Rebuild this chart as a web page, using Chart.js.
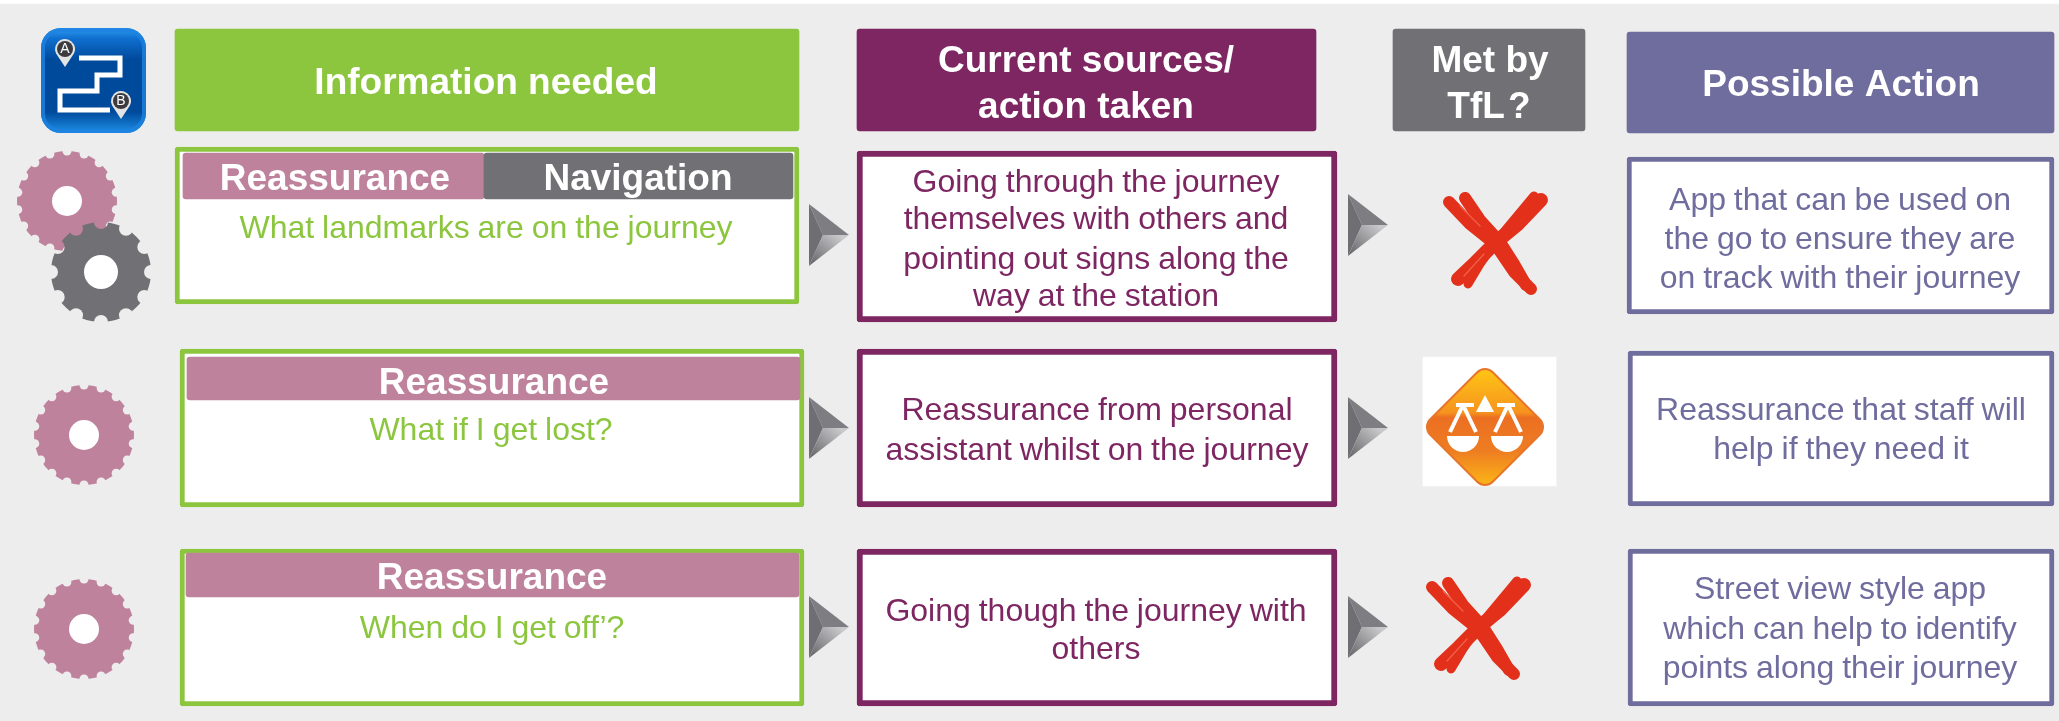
<!DOCTYPE html>
<html>
<head>
<meta charset="utf-8">
<title>Journey information needs</title>
<script src="https://cdn.jsdelivr.net/npm/chart.js@4"></script>
<style>
  html, body { margin: 0; padding: 0; background: #fff; }
  canvas { display: block; }
</style>
</head>
<body>
<canvas id="chart" width="2059" height="721"></canvas>
<script>
// --- Content of the table ---
const HEADERS = [['Information needed'], ['Current sources/', 'action taken'], ['Met by', 'TfL ?'], ['Possible Action']];
const NEED_TAGS = [['Reassurance', 'Navigation'], ['Reassurance'], ['Reassurance']];
const QUESTIONS = ['What landmarks are on the journey', 'What if I get lost?', 'When do I get off’?'];
const SOURCES = [
  ['Going through the journey', 'themselves with others and', 'pointing out signs along the', 'way at the station'],
  ['Reassurance from personal', 'assistant whilst on the journey'],
  ['Going though the journey with', 'others']
];
const MET_BY_TFL = ['no', 'partly', 'no'];
const ACTIONS = [
  ['App that can be used on', 'the go to ensure they are', 'on track with their journey'],
  ['Reassurance that staff will', 'help if they need it'],
  ['Street view style app', 'which can help to identify', 'points along their journey']
];

// --- Colours ---
const GREEN = '#8cc63f', PLUM = '#7d2662', GREY = '#717074', VIOLET = '#6f6c9e', PINK = '#bf829d', PAGE = '#ededed';
const TAG_COLORS = { Reassurance: PINK, Navigation: GREY };

// --- Layout, in the 2059x721 units of the two hidden axes ---
const HEADER_BOXES = [
  { x0: 175, x1: 799, y0: 29, y1: 131, color: GREEN, cx: 486, ys: [84] },
  { x0: 857, x1: 1316, y0: 29, y1: 131, color: PLUM, cx: 1086, ys: [62, 108] },
  { x0: 1393, x1: 1585, y0: 29, y1: 131, color: GREY, cx: 1490, ys: [62, 108] },
  { x0: 1627, x1: 2054, y0: 32, y1: 133, color: VIOLET, cx: 1841, ys: [86] }
];
const NEED_BOXES = [
  { x0: 175, x1: 799, y0: 147, y1: 304, textX: 486, textY: 229.5,
    tags: [{ x0: 183, x1: 484, y0: 153, y1: 199, cx: 335, cy: 180 }, { x0: 484, x1: 793, y0: 153, y1: 199, cx: 638, cy: 180 }] },
  { x0: 180, x1: 804, y0: 349, y1: 507, textX: 491, textY: 431.5,
    tags: [{ x0: 187, x1: 800, y0: 357, y1: 400, cx: 494, cy: 383.5 }] },
  { x0: 180, x1: 804, y0: 549, y1: 706, textX: 492, textY: 629.5,
    tags: [{ x0: 186, x1: 799, y0: 553, y1: 597, cx: 492, cy: 579 }] }
];
const SOURCE_BOXES = [
  { x0: 857, x1: 1337, y0: 151, y1: 322, cx: 1096, ys: [183, 220.5, 260, 297.5] },
  { x0: 857, x1: 1337, y0: 349, y1: 507, cx: 1097, ys: [411.5, 451.5] },
  { x0: 857, x1: 1337, y0: 549, y1: 706, cx: 1096, ys: [612.5, 650.5] }
];
const ACTION_BOXES = [
  { x0: 1627, x1: 2054, y0: 157, y1: 314, cx: 1840, ys: [201.5, 240.5, 279.5] },
  { x0: 1628, x1: 2054, y0: 351, y1: 506, cx: 1841, ys: [411.5, 450.5] },
  { x0: 1628, x1: 2054, y0: 549, y1: 706, cx: 1840, ys: [590.5, 630.5, 669.5] }
];
const ARROW_SPOTS = [[829, 235], [1368, 225], [829, 428], [1368, 428], [829, 627], [1368, 627]];
const CROSS_SPOTS = [[1498, 243], null, [1481, 628]];
const BALANCE_SPOT = [1485, 427];
const BALANCE_PANEL = { x0: 1423, x1: 1556, y0: 357, y1: 486 };
const MAP_ICON_SPOT = [94, 81];
const GEARS = [
  { x: 67, y: 201, color: PINK, notches: 18, notchR: 4.5, holeR: 15 },
  { x: 101, y: 272, color: GREY, notches: 12, notchR: 7, holeR: 17 },
  { x: 84, y: 435, color: PINK, notches: 18, notchR: 4.5, holeR: 15 },
  { x: 84, y: 629, color: PINK, notches: 18, notchR: 4.5, holeR: 15 }
];

function sprite(w, h, paint) {
  const c = document.createElement('canvas');
  c.width = w;
  c.height = h;
  paint(c.getContext('2d'));
  return c;
}

function gearSprite(g) {
  const R = 50;
  return sprite(104, 104, ctx => {
    ctx.translate(52, 52);
    ctx.fillStyle = g.color;
    ctx.beginPath();
    ctx.arc(0, 0, R, 0, Math.PI * 2);
    ctx.fill();
    // bite the notches out of the rim
    ctx.globalCompositeOperation = 'destination-out';
    for (let i = 0; i < g.notches; i++) {
      const a = -Math.PI / 2 + i * 2 * Math.PI / g.notches;
      ctx.beginPath();
      ctx.arc(Math.cos(a) * R, Math.sin(a) * R, g.notchR, 0, Math.PI * 2);
      ctx.fill();
    }
    ctx.globalCompositeOperation = 'source-over';
    ctx.fillStyle = '#fff';
    ctx.beginPath();
    ctx.arc(0, 0, g.holeR, 0, Math.PI * 2);
    ctx.fill();
  });
}

function arrowSprite() {
  return sprite(40, 64, ctx => {
    const poly = pts => {
      ctx.beginPath();
      pts.forEach((p, i) => i ? ctx.lineTo(p[0], p[1]) : ctx.moveTo(p[0], p[1]));
      ctx.closePath();
      ctx.fill();
    };
    ctx.fillStyle = '#7d7d82';
    poly([[0, 1], [40, 32], [14, 32]]);
    ctx.fillStyle = '#6f6f73';
    poly([[0, 1], [14, 32], [0, 63]]);
    const g = ctx.createLinearGradient(30, 32, 4, 62);
    g.addColorStop(0, '#c9c9cb');
    g.addColorStop(1, '#69696d');
    ctx.fillStyle = g;
    poly([[40, 32], [14, 32], [0, 63]]);
  });
}

function crossSprite() {
  return sprite(120, 110, ctx => {
    ctx.lineCap = 'round';
    ctx.lineJoin = 'round';
    const stroke = (color, width, pts) => {
      ctx.strokeStyle = color;
      ctx.lineWidth = width;
      ctx.beginPath();
      pts.forEach((p, i) => i ? ctx.lineTo(p[0], p[1]) : ctx.moveTo(p[0], p[1]));
      ctx.stroke();
    };
    const red = '#e2301a';
    stroke(red, 12, [[11, 14], [32, 36], [57, 56], [76, 84], [93, 101]]);
    stroke(red, 12, [[27, 10], [42, 32], [62, 54], [76, 76], [88, 97]]);
    stroke(red, 14, [[103, 12], [80, 36], [58, 54], [38, 74], [20, 91]]);
    stroke(red, 9, [[96, 8], [76, 32], [56, 56], [42, 76], [30, 96]]);
    stroke('#f4604a', 1.2, [[22, 18], [42, 38]]);
    stroke('#f4604a', 1.2, [[46, 66], [26, 88]]);
  });
}

function balanceSprite() {
  return sprite(124, 124, ctx => {
    ctx.translate(62, 62);
    const diamond = (h, r) => {
      ctx.lineJoin = 'round';
      ctx.lineWidth = r;
      ctx.beginPath();
      ctx.moveTo(0, -h);
      ctx.lineTo(h, 0);
      ctx.lineTo(0, h);
      ctx.lineTo(-h, 0);
      ctx.closePath();
    };
    const g = ctx.createLinearGradient(0, -60, 0, 60);
    g.addColorStop(0, '#ffc814');
    g.addColorStop(0.38, '#f6931e');
    g.addColorStop(0.42, '#ec6f22');
    g.addColorStop(0.7, '#ee7d22');
    g.addColorStop(1, '#fcb816');
    ctx.strokeStyle = '#e8742a';
    diamond(47, 24);
    ctx.stroke();
    ctx.fillStyle = g;
    ctx.strokeStyle = g;
    diamond(47, 20);
    ctx.fill();
    ctx.stroke();
    // the scales
    ctx.fillStyle = '#fff';
    ctx.strokeStyle = '#fff';
    ctx.lineWidth = 4;
    ctx.beginPath();
    ctx.moveTo(0, -32);
    ctx.lineTo(-9, -15);
    ctx.lineTo(9, -15);
    ctx.closePath();
    ctx.fill();
    ctx.fillRect(-29, -24, 18, 4);
    ctx.fillRect(12, -24, 18, 4);
    [[-22, -35, -9], [23, 10, 36]].forEach(([top, left, right]) => {
      ctx.beginPath();
      ctx.moveTo(top, -22);
      ctx.lineTo(left, 5);
      ctx.moveTo(top, -22);
      ctx.lineTo(right, 5);
      ctx.stroke();
    });
    [-22, 22].forEach(cx => {
      ctx.beginPath();
      ctx.arc(cx, 9, 16, 0, Math.PI);
      ctx.closePath();
      ctx.fill();
    });
  });
}

function mapIconSprite() {
  return sprite(106, 106, ctx => {
    ctx.translate(-41, -28);
    const g = ctx.createLinearGradient(0, 28, 0, 133);
    g.addColorStop(0, '#2d9cf0');
    g.addColorStop(0.1, '#0f6fcf');
    g.addColorStop(0.3, '#004a9c');
    g.addColorStop(0.8, '#004a9c');
    g.addColorStop(1, '#1d8fe6');
    ctx.fillStyle = g;
    ctx.beginPath();
    ctx.roundRect(41, 28, 105, 105, 20);
    ctx.fill();
    // brighter rim round the button
    ctx.strokeStyle = 'rgba(30, 130, 225, 0.8)';
    ctx.lineWidth = 4;
    ctx.beginPath();
    ctx.roundRect(43, 30, 101, 101, 18);
    ctx.stroke();
    ctx.strokeStyle = '#fff';
    ctx.lineWidth = 5;
    ctx.beginPath();
    [[79, 58], [120, 58], [120, 75], [97, 75], [97, 91], [60, 91], [60, 110], [110, 110]].forEach((p, i) =>
      i ? ctx.lineTo(p[0], p[1]) : ctx.moveTo(p[0], p[1]));
    ctx.stroke();
    [[65, 49], [121, 101]].forEach(([x, y]) => {
      ctx.fillStyle = '#e4e4e4';
      ctx.beginPath();
      ctx.arc(x, y, 10, Math.PI * 0.85, Math.PI * 0.15);
      ctx.lineTo(x, y + 18);
      ctx.closePath();
      ctx.fill();
      ctx.fillStyle = '#3c3c40';
      ctx.beginPath();
      ctx.arc(x, y, 8, 0, Math.PI * 2);
      ctx.fill();
    });
  });
}

// --- Marks ---
const marks = [];

function addBox(b, fill, border, borderWidth, radius) {
  marks.push({
    type: 'bar',
    stack: 'table',
    indexAxis: 'y',
    data: [{ x: [b.x0, b.x1], y: (b.y0 + b.y1) / 2 }],
    barThickness: b.y1 - b.y0,
    backgroundColor: fill,
    borderColor: border || fill,
    borderWidth: borderWidth || 0,
    borderSkipped: false,
    borderRadius: radius === undefined ? 3 : radius
  });
}

function addPicture(spot, picture) {
  marks.push({
    type: 'scatter',
    data: [{ x: spot[0], y: spot[1] }],
    pointStyle: picture,
    pointRadius: 10
  });
}

addBox({ x0: 0, x1: 2059, y0: 4, y1: 721 }, PAGE, null, 0, 0);
HEADER_BOXES.forEach(b => addBox(b, b.color));
NEED_BOXES.forEach((b, i) => {
  addBox(b, '#fff', GREEN, 5);
  b.tags.forEach((t, j) => addBox(t, TAG_COLORS[NEED_TAGS[i][j]]));
});
SOURCE_BOXES.forEach(b => addBox(b, '#fff', PLUM, 6));
ACTION_BOXES.forEach(b => addBox(b, '#fff', VIOLET, 5));
addBox(BALANCE_PANEL, '#fff', null, 0, 0);

addPicture(MAP_ICON_SPOT, mapIconSprite());
GEARS.forEach(g => addPicture([g.x, g.y], gearSprite(g)));
const arrow = arrowSprite();
ARROW_SPOTS.forEach(s => addPicture(s, arrow));
const cross = crossSprite();
MET_BY_TFL.forEach((m, i) => {
  if (m === 'no') addPicture(CROSS_SPOTS[i], cross);
  else addPicture(BALANCE_SPOT, balanceSprite());
});

// later marks sit on top
marks.forEach((m, i) => { m.order = marks.length - i; });

// --- Text ---
const HEAD_FONT = 'bold 37px "Liberation Sans", Arial, sans-serif';
const BODY_FONT = '32px "Liberation Sans", Arial, sans-serif';
const labels = [];

function addLines(lines, cx, ys, font, color, wordGap) {
  lines.forEach((text, i) => labels.push({ text, x: cx, y: ys[i], font, color, wordGap: wordGap || '0px' }));
}

HEADER_BOXES.forEach((b, i) => {
  if (i === 2) {
    // the question mark sits close to TfL in the source
    addLines([HEADERS[i][0]], b.cx, [b.ys[0]], HEAD_FONT, '#fff');
    addLines([HEADERS[i][1]], b.cx - 1, [b.ys[1]], HEAD_FONT, '#fff', '-7px');
  } else {
    addLines(HEADERS[i], b.cx, b.ys, HEAD_FONT, '#fff');
  }
});
NEED_BOXES.forEach((b, i) => {
  b.tags.forEach((t, j) => addLines([NEED_TAGS[i][j]], t.cx, [t.cy], HEAD_FONT, '#fff'));
  addLines([QUESTIONS[i]], b.textX, [b.textY], BODY_FONT, GREEN, '-1px');
});
SOURCE_BOXES.forEach((b, i) => addLines(SOURCES[i], b.cx, b.ys, BODY_FONT, PLUM, '-1px'));
ACTION_BOXES.forEach((b, i) => addLines(ACTIONS[i], b.cx, b.ys, BODY_FONT, VIOLET, '-1px'));
addLines(['A'], 65, [49.5], '14px "Liberation Sans", Arial, sans-serif', '#fff');
addLines(['B'], 121, [101.5], '14px "Liberation Sans", Arial, sans-serif', '#fff');

const labelPlugin = {
  id: 'tableLabels',
  afterDraw(chart) {
    const { ctx, scales } = chart;
    ctx.save();
    ctx.textAlign = 'center';
    ctx.textBaseline = 'middle';
    labels.forEach(l => {
      ctx.font = l.font;
      ctx.wordSpacing = l.wordGap;
      ctx.fillStyle = l.color;
      ctx.fillText(l.text, scales.x.getPixelForValue(l.x), scales.y.getPixelForValue(l.y));
    });
    ctx.restore();
  }
};

new Chart(document.getElementById('chart'), {
  type: 'bar',
  data: { datasets: marks },
  plugins: [labelPlugin],
  options: {
    indexAxis: 'y',
    responsive: false,
    animation: false,
    events: [],
    layout: { padding: 0, autoPadding: false },
    plugins: { legend: { display: false }, tooltip: { enabled: false } },
    scales: {
      x: { type: 'linear', min: 0, max: 2059, display: false, stacked: false, offset: false },
      y: { type: 'linear', min: 0, max: 721, reverse: true, display: false, offset: false }
    }
  }
});
</script>
</body>
</html>
